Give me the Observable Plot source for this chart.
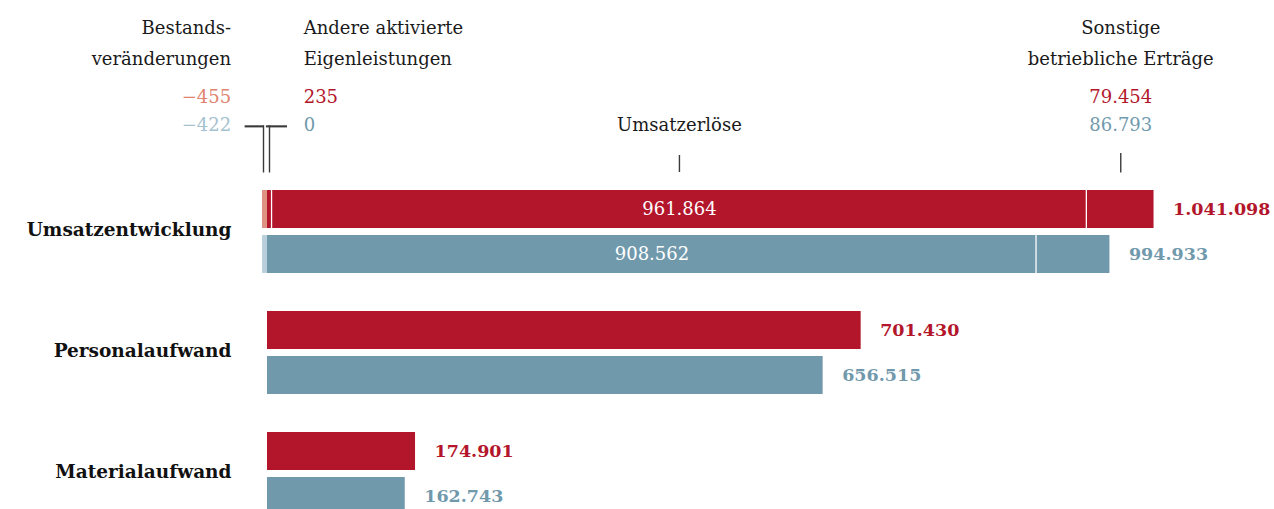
<!DOCTYPE html>
<html><head><meta charset="utf-8">
<script src="https://cdn.jsdelivr.net/npm/d3@7"></script>
<script src="https://cdn.jsdelivr.net/npm/@observablehq/plot@0.6"></script>
<style>
html,body{margin:0;padding:0;background:#fff;overflow:hidden}
</style></head><body><div id="chart"></div>
<script>
// ---- data ----
const groups = ["Umsatzentwicklung", "Personalaufwand", "Materialaufwand"];
const years = ["neu", "alt"];
const bestandsveraenderungen = [-455, -422];
const andereEigenleistungen = [235, 0];
const umsatzerloese = [961864, 908562];
const sonstigeErtraege = [79454, 86793];
const personalaufwand = [701430, 656515];
const materialaufwand = [174901, 162743];
const componentLabels = ["Bestands-\nveränderungen", "Andere aktivierte\nEigenleistungen", "Umsatzerlöse", "Sonstige\nbetriebliche Erträge"];

// ---- style ----
const dark = ["#b3162b", "#7199ac"];
const light = ["#de9383", "#b9d0dc"];
const lightText = ["#e0846f", "#a6c2d0"];
const font = "'DejaVu Serif', serif";
const fmt = v => (v < 0 ? "\u2212" : "") + d3.format(",")(Math.abs(v)).replace(/,/g, ".");
const minPx = 5; // minimum visible width of tiny segments

const umsatzRows = years.map((year, i) => {
  const b = bestandsveraenderungen[i], a = andereEigenleistungen[i], u = umsatzerloese[i], s = sonstigeErtraege[i];
  return {group: groups[0], year, i, b, a, u, s, u0: a, u1: a + u, s1: a + u + s, total: b + a + u + s, shift: a > 0 ? minPx : 0};
});
const costRows = [];
years.forEach((year, i) => {
  costRows.push({group: groups[1], year, i, v: personalaufwand[i]});
  costRows.push({group: groups[2], year, i, v: materialaufwand[i]});
});
const red = umsatzRows[0], blue = umsatzRows[1];
const G0 = () => groups[0];

const marks = [];
// Bestandsveränderungen (negative, tiny)
marks.push(Plot.barX(umsatzRows, {x1: "b", x2: 0, y: "year", fy: "group", fill: d => light[d.i], insetLeft: -(minPx - 0.4)}));
// Andere aktivierte Eigenleistungen
marks.push(Plot.barX(umsatzRows.filter(d => d.a > 0), {x1: 0, x2: "a", y: "year", fy: "group", fill: d => dark[d.i], insetRight: -(minPx - 1.3)}));
umsatzRows.forEach(d => {
  marks.push(Plot.barX([d], {x1: "u0", x2: "u1", y: "year", fy: "group", fill: dark[d.i], insetLeft: d.shift, insetRight: -d.shift + 0.6}));
  marks.push(Plot.barX([d], {x1: "u1", x2: "s1", y: "year", fy: "group", fill: dark[d.i], insetLeft: d.shift + 0.7, insetRight: -d.shift}));
  marks.push(Plot.text([d], {x: r => (r.u0 + r.u1) / 2, y: "year", fy: "group", dx: d.shift * 0.94, text: r => fmt(r.u), fill: "white", fontSize: 18, fontFamily: font}));
  marks.push(Plot.text([d], {x: "s1", y: "year", fy: "group", dx: d.shift + 19, text: r => fmt(r.total), fill: dark[d.i], fontSize: 17.5, fontWeight: "bold", fontFamily: font, textAnchor: "start"}));
});
// Personal- und Materialaufwand
marks.push(Plot.barX(costRows, {x1: 0, x2: "v", y: "year", fy: "group", fill: d => dark[d.i]}));
marks.push(Plot.text(costRows, {x: "v", y: "year", fy: "group", dx: 19, text: d => fmt(d.v), fill: d => dark[d.i], fontSize: 17.5, fontWeight: "bold", fontFamily: font, textAnchor: "start"}));
// group labels
marks.push(Plot.text(groups, {fy: d => d, text: d => d, frameAnchor: "left", dx: -36, dy: -2, textAnchor: "end", fontWeight: "bold", fontSize: 18.5, fontFamily: font, fill: "#111"}));

// ---- top annotations (first facet, above the bars) ----
const ann = (x, dx, text, dy, anchor, fill, extra = {}) =>
  Plot.text([0], {x: () => x, fy: G0, dx, dy, text: () => text, textAnchor: anchor, frameAnchor: "top", lineAnchor: "bottom", lineHeight: 31 / 18, fill, fontSize: 18, fontFamily: font, ...extra});
// Bestandsveränderungen
marks.push(ann(red.b, -36, componentLabels[0], -126, "end", "#1a1a1a"));
marks.push(ann(red.b, -36, fmt(red.b), -88, "end", lightText[0]));
marks.push(ann(red.b, -36, fmt(blue.b), -60, "end", lightText[1]));
// Andere aktivierte Eigenleistungen
marks.push(ann(red.a, 36, componentLabels[1], -126, "start", "#1a1a1a"));
marks.push(ann(red.a, 36, fmt(red.a), -88, "start", dark[0]));
marks.push(ann(red.a, 36, fmt(blue.a), -60, "start", dark[1]));
// Umsatzerlöse
const umMid = (red.u0 + red.u1) / 2;
marks.push(ann(umMid, red.shift * 0.94, componentLabels[2], -60, "middle", "#1a1a1a"));
// Sonstige betriebliche Erträge
const soMid = (red.u1 + red.s1) / 2;
marks.push(ann(soMid, red.shift + 0.35, componentLabels[3], -126, "middle", "#1a1a1a"));
marks.push(ann(soMid, red.shift + 0.35, fmt(red.s), -88, "middle", dark[0]));
marks.push(ann(soMid, red.shift + 0.35, fmt(blue.s), -60, "middle", dark[1]));

// leader ticks
const tickStyle = {stroke: "#3a3a3a", strokeWidth: 1.4};
marks.push(Plot.ruleX([0], {x: () => umMid, fy: G0, dx: red.shift * 0.94, insetTop: -35, insetBottom: 101, ...tickStyle}));
marks.push(Plot.ruleX([0], {x: () => soMid, fy: G0, dx: red.shift + 0.35, insetTop: -37, insetBottom: 100.5, ...tickStyle}));
// brackets for the tiny segments: vertical rules + thin horizontal bars
marks.push(Plot.ruleX([0], {x: () => red.b / 2, dx: -3.8, fy: G0, insetTop: -64.7, insetBottom: 100.5, ...tickStyle}));
marks.push(Plot.ruleX([0], {x: () => red.a / 2, dx: 1.9, fy: G0, insetTop: -64.7, insetBottom: 100.5, ...tickStyle}));
marks.push(Plot.barX([0], {x1: () => red.b / 2, x2: () => red.b / 2, fy: G0, insetLeft: -22.2, insetRight: 3.1, insetTop: -64.7, insetBottom: 145.6, fill: "#3a3a3a"}));
marks.push(Plot.barX([0], {x1: () => red.a / 2, x2: () => red.a / 2, fy: G0, insetLeft: -1.2, insetRight: -19.9, insetTop: -64.7, insetBottom: 145.6, fill: "#3a3a3a"}));

const chart = Plot.plot({
  width: 1274,
  height: 520,
  marginTop: 190,
  marginBottom: 5,
  marginLeft: 267,
  marginRight: 76,
  style: {fontFamily: font, background: "white"},
  x: {domain: [0, 1100000], axis: null},
  y: {domain: years, axis: null, paddingInner: 7 / 45, paddingOuter: 0, round: false},
  fy: {domain: groups, axis: null, paddingInner: 38 / 121, paddingOuter: 0, round: false},
  color: {type: "identity"},
  marks
});
document.getElementById("chart").append(chart);
</script>
</body></html>
